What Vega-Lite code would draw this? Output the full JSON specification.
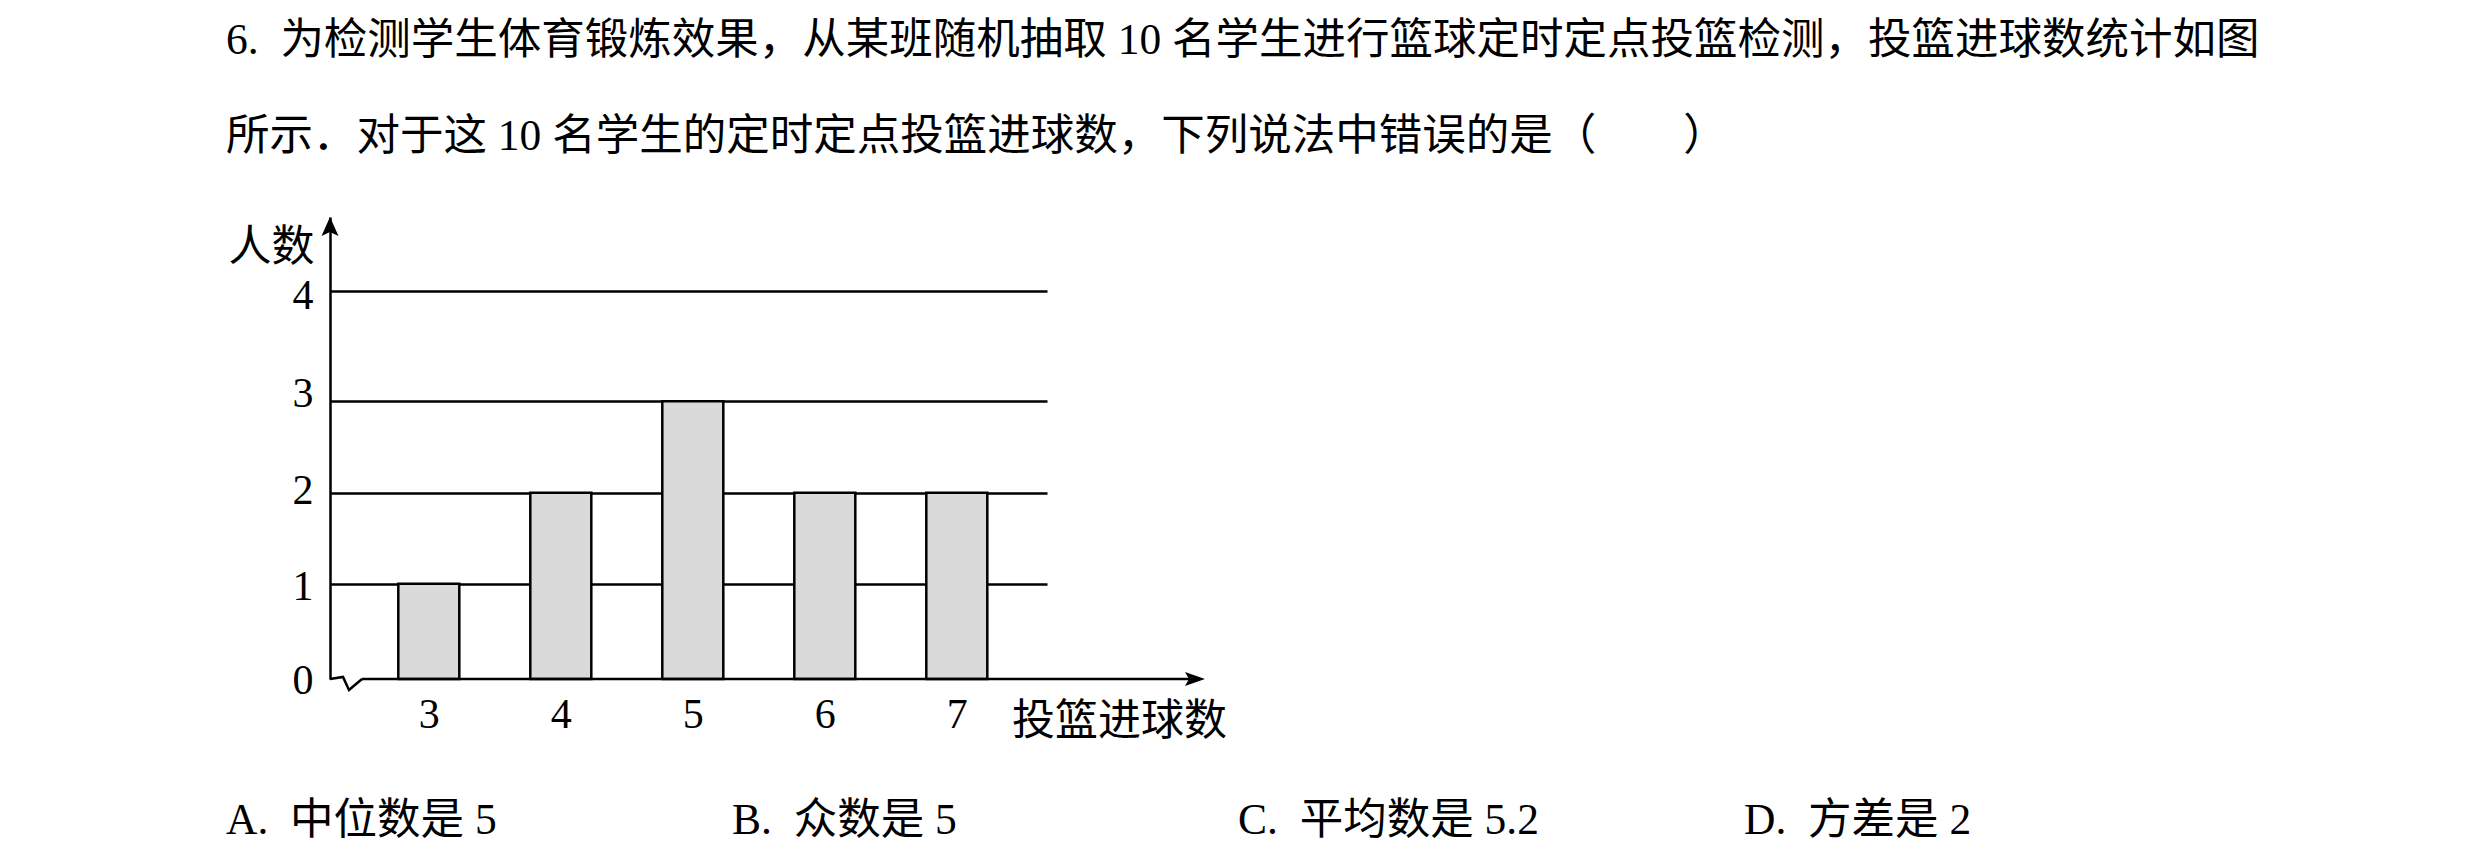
{
  "$schema": "https://vega.github.io/schema/vega-lite/v6.json",
  "background": "white",
  "padding": {"left": 226, "top": 18, "right": 5, "bottom": 5},
  "config": {
    "view": {"stroke": null},
    "font": "Liberation Serif, Noto Sans CJK SC"
  },
  "spacing": 56,
  "vconcat": [
    {
      "width": 717,
      "height": 462,
      "title": {
        "text": [
          "6.\u2002为检测学生体育锻炼效果，从某班随机抽取 10 名学生进行篮球定时定点投篮检测，投篮进球数统计如图",
          "所示．对于这 10 名学生的定时定点投篮进球数，下列说法中错误的是（　　）"
        ],
        "anchor": "start",
        "frame": "group",
        "dx": -104,
        "font": "Liberation Serif, Noto Sans CJK SC",
        "fontSize": 43.5,
        "fontWeight": "normal",
        "color": "black",
        "lineHeight": 96,
        "offset": 58
      },
      "data": {
        "values": [
          {"goals": 3, "students": 1},
          {"goals": 4, "students": 2},
          {"goals": 5, "students": 3},
          {"goals": 6, "students": 2},
          {"goals": 7, "students": 2}
        ]
      },
      "layer": [
        {
          "mark": {"type": "bar", "width": 61, "fill": "#dadada", "stroke": "black", "strokeWidth": 2.5},
          "encoding": {
            "x": {
              "field": "goals",
              "type": "quantitative",
              "scale": {"domain": [2.2515, 7.6833], "nice": false, "zero": false, "padding": 0},
              "axis": {
                "values": [3, 4, 5, 6, 7],
                "format": "d",
                "domain": false,
                "ticks": false,
                "grid": false,
                "labelFont": "Liberation Serif",
                "labelFontSize": 42,
                "labelColor": "black",
                "labelPadding": 15,
                "title": "投篮进球数",
                "titleFont": "Liberation Serif, Noto Sans CJK SC",
                "titleFontSize": 43,
                "titleFontWeight": "normal",
                "titleColor": "black",
                "titleX": 789,
                "titleY": 42,
                "titleAlign": "center",
                "titleBaseline": "middle"
              }
            },
            "y": {
              "field": "students",
              "type": "quantitative",
              "scale": {"domain": [0, 1, 2, 3, 4, 4.67], "range": [462, 366.8, 275.7, 184.3, 73.6, 0], "nice": false, "zero": false, "padding": 0},
              "axis": {
                "values": [0, 1, 2, 3, 4],
                "format": "d",
                "domain": true,
                "domainColor": "black",
                "domainWidth": 2.5,
                "ticks": false,
                "grid": true,
                "gridColor": "black",
                "gridWidth": 2.5,
                "gridOpacity": {"condition": {"test": "datum.value === 0", "value": 0}, "value": 1},
                "labelOffset": {
                  "condition": [
                    {"test": "datum.value === 4", "value": 5},
                    {"test": "datum.value === 3", "value": -8},
                    {"test": "datum.value === 2", "value": -2},
                    {"test": "datum.value === 1", "value": 3}
                  ],
                  "value": 1
                },
                "labelFont": "Liberation Serif",
                "labelFontSize": 42,
                "labelColor": "black",
                "labelPadding": 17,
                "title": "人数",
                "titleFont": "Liberation Serif, Noto Sans CJK SC",
                "titleFontSize": 43,
                "titleFontWeight": "normal",
                "titleColor": "black",
                "titleAngle": 0,
                "titleX": -59,
                "titleY": 30,
                "titleAlign": "center",
                "titleBaseline": "middle"
              }
            }
          }
        },
        {
          "data": {"values": [{}]},
          "mark": {"type": "rule", "color": "black", "strokeWidth": 2.5},
          "encoding": {
            "x": {"datum": 2.494, "type": "quantitative"},
            "x2": {"datum": 8.805},
            "y": {"datum": 0, "type": "quantitative"}
          }
        },
        {
          "data": {"values": [{}]},
          "mark": {"type": "point", "shape": "M0,0L1.3,-0.2L1.9,1.1L3.2,0", "size": 400, "filled": false, "stroke": "black", "strokeWidth": 2.5, "opacity": 1},
          "encoding": {
            "x": {"datum": 2.2515, "type": "quantitative"},
            "y": {"datum": 0, "type": "quantitative"}
          }
        },
        {
          "data": {"values": [{}]},
          "mark": {"type": "point", "shape": "M0,0L0.85,1.9L0,1.5L-0.85,1.9Z", "size": 400, "filled": true, "color": "black", "opacity": 1},
          "encoding": {
            "x": {"datum": 2.2515, "type": "quantitative"},
            "y": {"datum": 4.67, "type": "quantitative"}
          }
        },
        {
          "data": {"values": [{}]},
          "mark": {"type": "point", "shape": "M0,0L-2,-0.7L-1.6,0L-2,0.7Z", "size": 400, "filled": true, "color": "black", "opacity": 1},
          "encoding": {
            "x": {"datum": 8.88, "type": "quantitative"},
            "y": {"datum": 0, "type": "quantitative"}
          }
        }
      ]
    },
    {
      "width": 1518,
      "height": 44,
      "data": {
        "values": [
          {"option": "A", "text": "A.\u2002中位数是 5"},
          {"option": "B", "text": "B.\u2002众数是 5"},
          {"option": "C", "text": "C.\u2002平均数是 5.2"},
          {"option": "D", "text": "D.\u2002方差是 2"}
        ]
      },
      "mark": {"type": "text", "align": "left", "baseline": "middle", "dx": -104, "fontSize": 43.5, "font": "Liberation Serif, Noto Sans CJK SC", "color": "black"},
      "encoding": {
        "x": {"field": "option", "type": "nominal", "scale": {"type": "point", "padding": 0}, "axis": null},
        "text": {"field": "text"}
      }
    }
  ]
}
